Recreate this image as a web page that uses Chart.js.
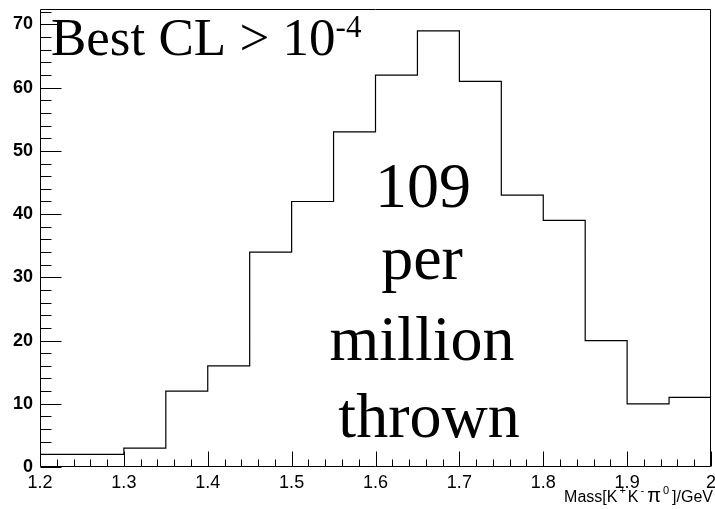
<!DOCTYPE html>
<html>
<head>
<meta charset="utf-8">
<script src="https://cdn.jsdelivr.net/npm/chart.js@4"></script>
<style>
  html, body { margin: 0; padding: 0; background: #fff; }
  #wrap { width: 715px; height: 509px; }
</style>
</head>
<body>
<div id="wrap"><canvas id="histo"></canvas></div>
<script>
// bin low edges and counts
const binEdges = [1.2, 1.25, 1.3, 1.35, 1.4, 1.45, 1.5, 1.55, 1.6, 1.65, 1.7, 1.75, 1.8, 1.85, 1.9, 1.95];
const counts   = [2, 2, 3, 12, 16, 34, 42, 53, 62, 69, 61, 43, 39, 20, 10, 11];
const xHigh = 2.0;
const yMax = 72.45;

// tick labels
const xTicks = [1.2, 1.3, 1.4, 1.5, 1.6, 1.7, 1.8, 1.9, 2.0];
const yTicks = [0, 10, 20, 30, 40, 50, 60, 70];

// histogram outline points
const points = binEdges.map((e, i) => ({ x: e, y: counts[i] }));
points.push({ x: xHigh, y: counts[counts.length - 1] });

// ticks inside the frame + frame + texts
const rootStyle = {
    id: 'rootStyle',
    afterDraw(chart) {
        const c = chart.ctx;
        const a = chart.chartArea;
        const xs = chart.scales.x, ys = chart.scales.y;
        const L = Math.round(a.left) + 0.5, R = Math.round(a.right) - 0.5;
        const T = Math.round(a.top) + 0.5, B = Math.round(a.bottom) - 0.5;
        c.save();
        c.strokeStyle = '#000';
        c.lineWidth = 1;
        c.beginPath();
        c.rect(L, T, R - L, B - T);
        c.stroke();

        // y ticks
        c.beginPath();
        for (let v = 0; v <= yMax; v += 2) {
            const py = Math.round(ys.getPixelForValue(v)) + 0.5;
            const len = (v % 10 === 0) ? 21 : 11;
            c.moveTo(L, py); c.lineTo(L + len, py);
        }
        // x ticks
        for (let k = 0; k <= 40; k++) {
            const v = 1.2 + k * 0.02;
            const px = Math.round(xs.getPixelForValue(v)) + 0.5;
            const len = (k % 5 === 0) ? 15 : 7;
            c.moveTo(px, B); c.lineTo(px, B - len);
        }
        c.stroke();

        // Best CL > 10^-4
        c.fillStyle = '#000';
        c.textAlign = 'left';
        c.textBaseline = 'alphabetic';
        c.font = '53px "Liberation Serif", "Times New Roman", serif';
        const main = 'Best CL > 10';
        c.fillText(main, 51, 55);
        const w = c.measureText(main).width;
        c.font = '31px "Liberation Serif", "Times New Roman", serif';
        c.fillText('-4', 51 + w, 37);

        // 109 per million thrown
        c.textAlign = 'center';
        c.font = '64px "Liberation Serif", "Times New Roman", serif';
        c.fillText('109', 423, 207);
        c.fillText('per', 422, 279);
        c.fillText('million', 422, 360);
        c.fillText('thrown', 429, 437);

        // x axis title with superscripts: [text, size, raise, gapAfter]
        const parts = [
            ['Mass[K', 16, 0, 2], ['+', 11, 8, 2], ['K', 16, 0, 2], ['-', 11, 8, 3],
            ['\u03c0', 20, 0, 2], ['0', 11, 8, 3], [']/GeV', 16, 0, 0]
        ];
        const fam = '"Liberation Sans", Arial, sans-serif';
        let total = 0;
        parts.forEach(p => { c.font = p[1] + 'px ' + fam; total += c.measureText(p[0]).width + p[3]; });
        let x = 713 - total;
        c.textAlign = 'left';
        parts.forEach(p => {
            c.font = p[1] + 'px ' + fam;
            c.fillText(p[0], x, 502 - p[2]);
            x += c.measureText(p[0]).width + p[3];
        });
        c.restore();
    }
};

const ctx = document.getElementById('histo').getContext('2d');
const chart = new Chart(ctx, {
    type: 'line',
    data: {
        datasets: [{
            data: points,
            stepped: 'before',
            borderColor: '#000',
            borderWidth: 1.2,
            pointRadius: 0,
            fill: false,
            tension: 0
        }]
    },
    options: {
        responsive: true,
        maintainAspectRatio: false,
        animation: false,
        devicePixelRatio: 1,
        layout: { padding: { top: 9, right: 4, left: 0, bottom: 0 } },
        plugins: {
            legend: { display: false },
            tooltip: { enabled: false }
        },
        scales: {
            x: {
                type: 'linear',
                min: 1.2,
                max: xHigh,
                grid: { display: false, drawTicks: false },
                border: { display: false },
                afterBuildTicks: s => { s.ticks = xTicks.map(v => ({ value: v })); },
                afterFit: s => { s.height = 42; s.paddingLeft = 0; s.paddingRight = 0; },
                ticks: {
                    autoSkip: false,
                    maxRotation: 0,
                    padding: 5,
                    color: '#000',
                    font: { family: '"Liberation Sans", Arial, sans-serif', size: 18 },
                    callback: v => String(Math.round(v * 10) / 10)
                }
            },
            y: {
                type: 'linear',
                min: 0,
                max: yMax,
                grid: { display: false, drawTicks: false },
                border: { display: false },
                afterBuildTicks: s => { s.ticks = yTicks.map(v => ({ value: v })); },
                afterFit: s => { s.width = 40; s.paddingTop = 0; s.paddingBottom = 0; },
                ticks: {
                    autoSkip: false,
                    padding: 7,
                    color: '#000',
                    font: { family: '"Liberation Sans", Arial, sans-serif', size: 18, weight: 'bold' }
                }
            }
        }
    },
    plugins: [rootStyle]
});
</script>
</body>
</html>
